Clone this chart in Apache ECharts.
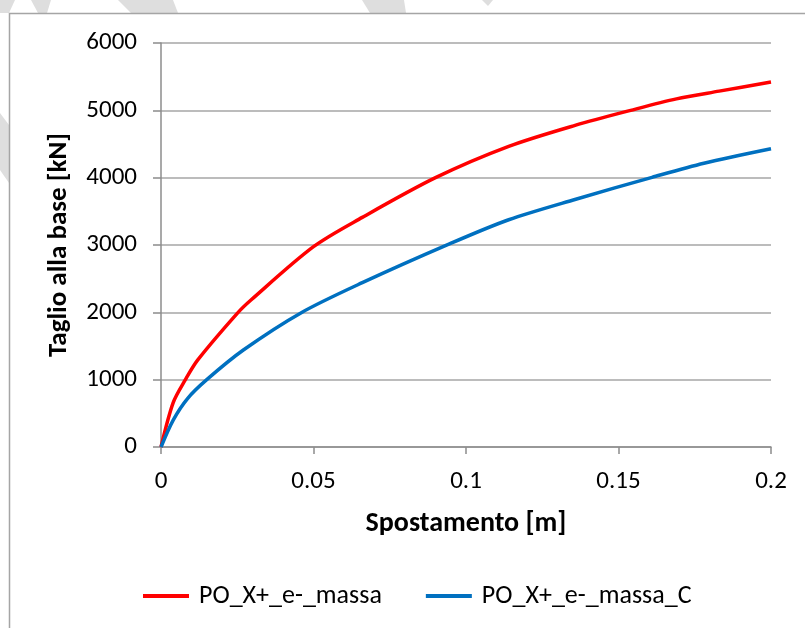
<!DOCTYPE html>
<html>
<head>
<meta charset="utf-8">
<title>Taglio alla base - Spostamento</title>
<script src="https://cdn.jsdelivr.net/npm/echarts@6/dist/echarts.min.js"></script>
<style>
  html, body {
    margin: 0;
    padding: 0;
    background: #fff;
  }
  #pushoverChart {
    width: 805px;
    height: 628px;
  }
</style>
</head>
<body>
<div id="pushoverChart"></div>
<script>
  // curve PO_X+_e-_massa
  const redX = [0, 0.004, 0.008, 0.012, 0.025, 0.0295, 0.05, 0.066, 0.09, 0.114, 0.136, 0.154, 0.169, 0.183, 0.2]
  const redY = [0, 660, 1000, 1290, 1985, 2183, 2975, 3410, 4000, 4465, 4780, 5000, 5170, 5285, 5420]
  // curve PO_X+_e-_massa_C
  const blueX = [0, 0.004, 0.0087, 0.015, 0.027, 0.046, 0.066, 0.094, 0.114, 0.136, 0.161, 0.178, 0.2]
  const blueY = [0, 400, 720, 1000, 1440, 1995, 2440, 3005, 3375, 3680, 4005, 4215, 4430]
  const seriesNames = ['PO_X+_e-_massa', 'PO_X+_e-_massa_C']
  const xTicks = [0, 0.05, 0.1, 0.15, 0.2]
  const yTicks = [0, 1000, 2000, 3000, 4000, 5000, 6000]

  const fontFam = 'Carlito, Calibri, "Open Sans", sans-serif'
  const pairs = (xs, ys) => xs.map((x, i) => [x, ys[i]])

  const chart = echarts.init(document.getElementById('pushoverChart'))
  const option = {
    backgroundColor: '#fff',
    animation: false,
    textStyle: { fontFamily: fontFam, color: '#000' },
    graphic: [
      // faint watermark stripes outside the frame
      { type: 'polygon', z: -10, shape: { points: [[0, 0], [15, 0], [9, 13], [0, 13]] }, style: { fill: '#dedede' } },
      { type: 'polygon', z: -10, shape: { points: [[31, 0], [51, 0], [47, 13], [38, 13]] }, style: { fill: '#dedede' } },
      { type: 'polygon', z: -10, shape: { points: [[118, 0], [173, 0], [178, 13], [131, 13]] }, style: { fill: '#dedede' } },
      { type: 'polygon', z: -10, shape: { points: [[362, 0], [404, 0], [406, 13], [370, 13]] }, style: { fill: '#dedede' } },
      { type: 'polygon', z: -10, shape: { points: [[482, 0], [493, 0], [488, 6]] }, style: { fill: '#dedede' } },
      { type: 'polygon', z: -10, shape: { points: [[0, 113], [9, 125], [9, 183], [0, 170]] }, style: { fill: '#dedede' } },
      // chart frame
      {
        type: 'rect',
        shape: { x: 9.5, y: 13.5, width: 820, height: 640 },
        style: { fill: null, stroke: '#a5a5a5', lineWidth: 1.5 },
      },
    ],
    grid: {
      left: 161,
      right: 34,
      top: 43,
      bottom: 181,
    },
    legend: {
      data: seriesNames,
      left: 138,
      top: 578,
      icon: 'rect',
      itemWidth: 46,
      itemHeight: 4,
      itemGap: 44,
      textStyle: { fontFamily: fontFam, fontSize: 26, color: '#000', padding: [0, 0, 0, 5] },
    },
    xAxis: {
      type: 'value',
      min: xTicks[0],
      max: xTicks[xTicks.length - 1],
      interval: 0.05,
      name: 'Spostamento [m]',
      nameLocation: 'middle',
      nameGap: 63,
      nameTextStyle: { fontFamily: fontFam, fontSize: 28, fontWeight: 'bold', color: '#000' },
      axisLine: { show: true, lineStyle: { color: '#8c8c8c', width: 1.5 } },
      axisTick: { show: true, length: 7, lineStyle: { color: '#8c8c8c', width: 1.5 } },
      axisLabel: { fontFamily: fontFam, fontSize: 25, color: '#000', margin: 22 },
      splitLine: { show: false },
    },
    yAxis: {
      type: 'value',
      min: yTicks[0],
      max: yTicks[yTicks.length - 1],
      interval: 1000,
      name: 'Taglio alla base [kN]',
      nameLocation: 'middle',
      nameGap: 88,
      nameTextStyle: { fontFamily: fontFam, fontSize: 27, fontWeight: 'bold', color: '#000' },
      axisLine: { show: true, lineStyle: { color: '#8c8c8c', width: 1.5 } },
      axisTick: { show: true, length: 8, lineStyle: { color: '#8c8c8c', width: 1.5 } },
      axisLabel: { fontFamily: fontFam, fontSize: 25, color: '#000', margin: 24, formatter: (v) => String(v) },
      splitLine: { show: true, lineStyle: { color: '#a6a6a6', width: 1.5 } },
    },
    series: [
      {
        name: seriesNames[0],
        type: 'line',
        symbol: 'none',
        smooth: 0.3,
        lineStyle: { color: '#ff0000', width: 3.5 },
        itemStyle: { color: '#ff0000' },
        data: pairs(redX, redY),
      },
      {
        name: seriesNames[1],
        type: 'line',
        symbol: 'none',
        smooth: 0.3,
        lineStyle: { color: '#0070c0', width: 3.5 },
        itemStyle: { color: '#0070c0' },
        data: pairs(blueX, blueY),
      },
    ],
  }
  chart.setOption(option)
</script>
</body>
</html>
